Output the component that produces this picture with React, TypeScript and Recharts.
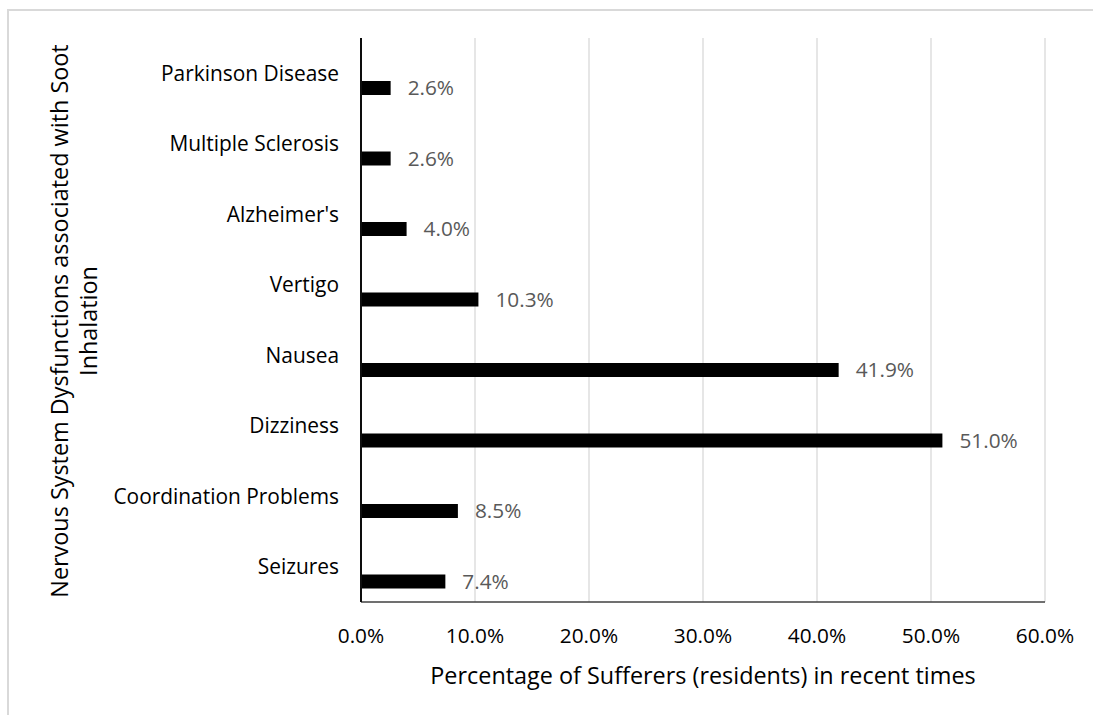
import React from 'react';
import { BarChart, Bar, XAxis, YAxis, CartesianGrid, LabelList, Label } from 'recharts';

const categories = [
  'Parkinson Disease',
  'Multiple Sclerosis',
  "Alzheimer's",
  'Vertigo',
  'Nausea',
  'Dizziness',
  'Coordination Problems',
  'Seizures',
];
const values = [0.026, 0.026, 0.04, 0.103, 0.419, 0.51, 0.085, 0.074];
const xTicks = [0, 0.1, 0.2, 0.3, 0.4, 0.5, 0.6];
const xTitle = 'Percentage of Sufferers (residents) in recent times';
const yTitleLines = ['Nervous System Dysfunctions associated with Soot', 'Inhalation'];

const data = categories.map((name, i) => ({ name, blank: null, value: values[i] }));

const FONT = '"Open Sans", Lato, sans-serif';
const pct = (v: number) => (v * 100).toFixed(1) + '%';

const XTitle = (props: any) => {
  const vb = props.viewBox;
  return (
    <text
      x={vb.x + vb.width / 2}
      y={vb.y + 73}
      textAnchor="middle"
      dominantBaseline="central"
      fontFamily={FONT}
      fontSize={23.4}
      fill="#000"
    >
      {xTitle}
    </text>
  );
};

const YTitle = (props: any) => {
  const vb = props.viewBox;
  const cy = vb.y + vb.height / 2 + 1;
  const xs = [59, 88];
  return (
    <g>
      {yTitleLines.map((line, i) => (
        <text
          key={i}
          x={xs[i]}
          y={cy}
          transform={`rotate(-90 ${xs[i]} ${cy})`}
          textAnchor="middle"
          dominantBaseline="central"
          fontFamily={FONT}
          fontSize={23.4}
          fill="#000"
        >
          {line}
        </text>
      ))}
    </g>
  );
};

export default function App() {
  return (
    <div
      style={{
        position: 'absolute',
        left: 0,
        top: 0,
        width: 1093,
        height: 715,
        background: '#fff',
        overflow: 'hidden',
      }}
    >
      <div
        style={{
          position: 'absolute',
          left: 7,
          top: 9,
          width: 1300,
          height: 900,
          borderLeft: '2px solid #d9d9d9',
          borderTop: '2px solid #d9d9d9',
        }}
      />
      <div style={{ position: 'absolute', left: 0, top: 0 }}>
        <BarChart
          width={1093}
          height={715}
          data={data}
          layout="vertical"
          margin={{ top: 38, right: 48, bottom: 83, left: 0 }}
          barGap={16}
        >
          <CartesianGrid horizontal={false} stroke="#d9d9d9" strokeWidth={1.3} />
          <XAxis
            type="number"
            domain={[0, 0.6]}
            ticks={xTicks}
            tickFormatter={pct}
            tickLine={false}
            tickSize={0}
            tickMargin={26}
            axisLine={{ stroke: '#404040', strokeWidth: 1.5 }}
            tick={{ fontSize: 20.8, fill: '#000', fontFamily: FONT }}
            interval={0}
            height={30}
          >
            <Label content={<XTitle />} />
          </XAxis>
          <YAxis
            type="category"
            dataKey="name"
            width={361}
            tickLine={false}
            tickSize={0}
            tickMargin={22}
            axisLine={{ stroke: '#0d0d0d', strokeWidth: 2 }}
            tick={{ fontSize: 20.9, fill: '#000', fontFamily: FONT }}
            interval={0}
          >
            <Label content={<YTitle />} />
          </YAxis>
          <Bar dataKey="blank" barSize={14} fill="#000" isAnimationActive={false} />
          <Bar dataKey="value" barSize={14} fill="#000" isAnimationActive={false}>
            <LabelList
              dataKey="value"
              position="right"
              offset={17}
              formatter={(v: any) => pct(Number(v))}
              fill="#595959"
              fontSize={20.8}
              fontFamily={FONT}
            />
          </Bar>
        </BarChart>
      </div>
    </div>
  );
}
